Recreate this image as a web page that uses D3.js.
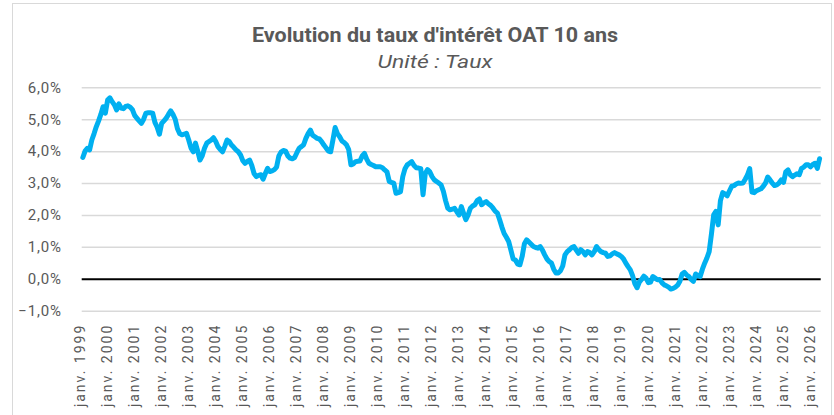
<!DOCTYPE html>
<html><head><meta charset="utf-8">
<script src="https://cdn.jsdelivr.net/npm/d3@7"></script>
<style>
html,body{margin:0;padding:0;background:#fff;}
svg{display:block;font-family:Roboto, "Noto Sans", sans-serif;}
</style></head>
<body><svg id="c" width="834" height="415"></svg>
<script>
// ---- data (OAT 10 ans, monthly, %) ----
const title = "Evolution du taux d'intérêt OAT 10 ans";
const subtitle = "Unité : Taux";
const years = d3.range(1999, 2027);
const v1999 = [3.80, 4.00, 4.09, 4.04, 4.35, 4.55, 4.77, 4.95, 5.15, 5.39, 5.19, 5.60];
const v2000 = [5.67, 5.55, 5.45, 5.29, 5.48, 5.35, 5.33, 5.40, 5.42, 5.38, 5.30, 5.12];
const v2001 = [5.03, 4.95, 4.87, 5.00, 5.19, 5.20, 5.20, 5.19, 4.90, 4.75, 4.53, 4.87];
const v2002 = [4.95, 5.03, 5.15, 5.26, 5.15, 5.00, 4.70, 4.55, 4.51, 4.53, 4.56, 4.35];
const v2003 = [4.10, 3.98, 4.25, 4.00, 3.72, 3.85, 4.09, 4.25, 4.30, 4.35, 4.42, 4.30];
const v2004 = [4.14, 4.05, 3.98, 4.15, 4.35, 4.30, 4.19, 4.12, 4.04, 3.98, 3.88, 3.70];
const v2005 = [3.62, 3.68, 3.72, 3.55, 3.30, 3.20, 3.24, 3.26, 3.12, 3.30, 3.46, 3.36];
const v2006 = [3.38, 3.42, 3.50, 3.85, 3.97, 4.02, 4.00, 3.85, 3.78, 3.76, 3.80, 3.95];
const v2007 = [4.09, 4.14, 4.20, 4.40, 4.55, 4.66, 4.50, 4.45, 4.40, 4.38, 4.30, 4.19];
const v2008 = [4.10, 4.00, 3.98, 4.35, 4.74, 4.55, 4.45, 4.32, 4.27, 4.20, 4.05, 3.57];
const v2009 = [3.60, 3.67, 3.68, 3.69, 3.85, 3.93, 3.75, 3.62, 3.58, 3.55, 3.51, 3.51];
const v2010 = [3.51, 3.48, 3.41, 3.35, 3.05, 3.02, 3.00, 2.68, 2.70, 2.73, 3.20, 3.45];
const v2011 = [3.57, 3.62, 3.67, 3.55, 3.48, 3.47, 3.45, 2.63, 3.30, 3.42, 3.35, 3.20];
const v2012 = [3.10, 3.05, 3.00, 2.94, 2.75, 2.45, 2.21, 2.16, 2.18, 2.21, 2.10, 2.00];
const v2013 = [2.26, 2.05, 1.85, 2.00, 2.21, 2.28, 2.32, 2.45, 2.50, 2.32, 2.38, 2.42];
const v2014 = [2.35, 2.30, 2.22, 2.12, 2.06, 1.85, 1.62, 1.42, 1.30, 1.17, 0.90, 0.62];
const v2015 = [0.59, 0.46, 0.44, 0.70, 1.10, 1.22, 1.15, 1.08, 1.01, 0.98, 0.96, 1.01];
const v2016 = [0.90, 0.75, 0.62, 0.54, 0.49, 0.30, 0.18, 0.18, 0.25, 0.40, 0.75, 0.85];
const v2017 = [0.91, 0.98, 1.01, 0.90, 0.80, 0.91, 0.85, 0.75, 0.85, 0.82, 0.75, 0.85];
const v2018 = [1.01, 0.92, 0.85, 0.82, 0.80, 0.70, 0.72, 0.78, 0.82, 0.78, 0.75, 0.70];
const v2019 = [0.62, 0.49, 0.38, 0.28, 0.10, -0.15, -0.28, -0.10, -0.02, 0.08, 0.02, -0.12];
const v2020 = [-0.10, 0.07, 0.02, -0.03, -0.02, -0.12, -0.19, -0.22, -0.26, -0.32, -0.30, -0.26];
const v2021 = [-0.20, -0.08, 0.15, 0.20, 0.12, 0.07, -0.02, -0.08, 0.15, 0.10, 0.07, 0.30];
const v2022 = [0.49, 0.65, 0.85, 1.40, 2.00, 2.11, 1.69, 2.45, 2.70, 2.66, 2.60, 2.75];
const v2023 = [2.90, 2.92, 2.97, 3.00, 2.99, 3.00, 3.12, 3.25, 3.45, 2.72, 2.70, 2.76];
const v2024 = [2.79, 2.82, 2.90, 3.00, 3.19, 3.10, 3.00, 2.92, 2.94, 3.00, 3.10, 3.02];
const v2025 = [3.35, 3.41, 3.26, 3.20, 3.25, 3.29, 3.26, 3.46, 3.50, 3.57, 3.57, 3.51];
const v2026 = [3.58, 3.62, 3.46, 3.76];
const yTicks = [-1, 0, 1, 2, 3, 4, 5, 6];
const xTickLabels = years.map(y => "janv. " + y);

const values = [].concat(v1999, v2000, v2001, v2002, v2003, v2004, v2005, v2006, v2007,
  v2008, v2009, v2010, v2011, v2012, v2013, v2014, v2015, v2016, v2017, v2018, v2019,
  v2020, v2021, v2022, v2023, v2024, v2025, v2026);

// ---- layout ----
const svg = d3.select("#c");
const L = 81.7, R = 820.7, T = 87.3, B = 310.7;
const textCol = "#595959";

svg.append("rect").attr("x", 12.5).attr("y", 3.5).attr("width", 819).attr("height", 430)
  .attr("fill", "#fff").attr("stroke", "#d9d9d9").attr("stroke-width", 1);

svg.append("text").attr("x", 435).attr("y", 42).attr("text-anchor", "middle")
  .attr("fill", textCol).attr("font-size", 20).attr("font-weight", 700)
  .attr("textLength", 366).attr("lengthAdjust", "spacingAndGlyphs").text(title);
svg.append("text").attr("x", 435).attr("y", 68).attr("text-anchor", "middle")
  .attr("fill", textCol).attr("font-size", 19).attr("font-style", "italic")
  .attr("textLength", 115).attr("lengthAdjust", "spacingAndGlyphs").text(subtitle);

const x = d3.scaleBand().domain(d3.range(values.length)).range([L, R]);
const bw = x.bandwidth();
const y = d3.scaleLinear().domain([-1, 6]).range([B, T]);

const fmt = v => d3.format(".1f")(v).replace(".", ",") + "%";

const yAxis = svg.append("g").attr("transform", `translate(${L},0)`)
  .call(d3.axisLeft(y).tickValues(yTicks).tickFormat(fmt).tickSize(-(R - L)).tickPadding(20));
yAxis.select(".domain").remove();
yAxis.selectAll(".tick line").attr("stroke", d => d === 0 ? "#000" : "#d9d9d9")
  .attr("stroke-width", d => d === 0 ? 2 : 1.5);
yAxis.selectAll(".tick text").attr("fill", textCol).attr("font-size", 15)
  .attr("letter-spacing", 0.8).attr("font-family", "Roboto");
yAxis.selectAll(".tick").filter(d => d === 0).raise();

const xTicks = years.map((yr, k) => k * 12);
const xAxis = svg.append("g").attr("transform", `translate(0,${B})`)
  .call(d3.axisBottom(x).tickValues(xTicks).tickFormat((d, k) => xTickLabels[k]).tickSize(0));
xAxis.select(".domain").remove();
xAxis.selectAll(".tick text")
  .attr("transform", "translate(-3,13) rotate(-90)")
  .attr("text-anchor", "end").attr("dy", "0.35em").attr("y", 0)
  .attr("fill", textCol).attr("font-size", 14).attr("letter-spacing", 2)
  .attr("font-family", "Roboto");

const line = d3.line().x((d, i) => x(i) + bw / 2).y(d => y(d));
svg.append("path").datum(values).attr("d", line).attr("fill", "none")
  .attr("stroke", "#00B0F0").attr("stroke-width", 5)
  .attr("stroke-linejoin", "round").attr("stroke-linecap", "round");
</script></body></html>
